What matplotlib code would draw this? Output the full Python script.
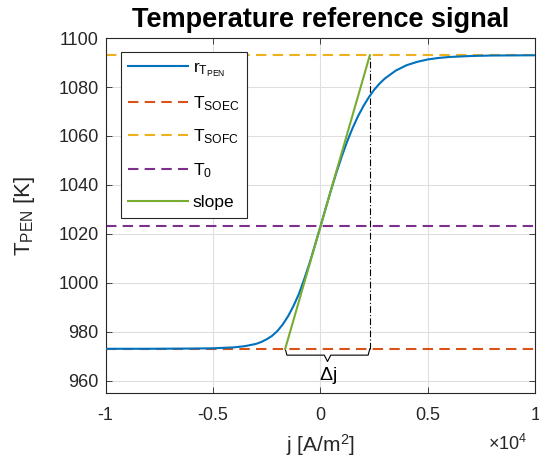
import matplotlib
matplotlib.use('Agg')
import matplotlib.pyplot as plt
import matplotlib.ticker as ticker

plt.rcParams['font.family'] = ['Liberation Sans', 'DejaVu Sans']
plt.rcParams['mathtext.fontset'] = 'custom'
plt.rcParams['mathtext.rm'] = 'Liberation Sans'
plt.rcParams['mathtext.it'] = 'Liberation Sans'
plt.rcParams['axes.unicode_minus'] = False

# current density [A/m^2] and reference temperature [K]
j = [-10000, -8000, -6000, -5000, -4500, -4000, -3500, -3000, -2750, -2500, -2250, -2000,
     -1750, -1500, -1250, -1000, -750, -500, -250, 0, 250, 500, 750, 1000, 1250, 1500,
     1750, 2000, 2250, 2500, 2750, 3000, 3500, 4000, 4500, 5000, 5500, 6000, 7000, 8000, 10000]
r_T = [973.0, 973.0, 973.1, 973.2, 973.4, 973.6, 974.1, 975.0, 975.8, 976.9, 978.3, 980.3,
       983.0, 986.4, 990.6, 995.5, 1001.6, 1008.2, 1015.5, 1023.0, 1030.6, 1038.1, 1045.2,
       1051.8, 1057.9, 1063.3, 1068.1, 1072.2, 1075.8, 1078.9, 1081.4, 1083.5, 1086.7,
       1088.9, 1090.3, 1091.3, 1091.9, 1092.3, 1092.7, 1092.9, 1093.0]

T_SOEC = 973
T_SOFC = 1093
T0 = 1023

# tangent at j = 0
slope_j = [-1640, 2300]
slope_T = [973, 1093]

c_blue = '#0072BD'
c_red = '#D95319'
c_yel = '#EDB120'
c_pur = '#7E2F8E'
c_grn = '#77AC30'

fig = plt.figure(figsize=(5.39, 4.71), dpi=100)
ax = fig.add_axes([0.196, 0.166, 0.797, 0.753])

xlim = [-10000, 10000]
dash = (5, 3)
ax.plot(j, r_T, color=c_blue, lw=1.5, label=r'r$_{\mathrm{T}_{\mathrm{PEN}}}$', zorder=4)
ax.plot(xlim, [T_SOEC, T_SOEC], '--', color=c_red, lw=1.5, dashes=dash, label=r'T$_{\mathrm{SOEC}}$')
ax.plot(xlim, [T_SOFC, T_SOFC], '--', color=c_yel, lw=1.5, dashes=dash, label=r'T$_{\mathrm{SOFC}}$')
ax.plot(xlim, [T0, T0], '--', color=c_pur, lw=1.5, dashes=dash, label=r'T$_0$')
ax.plot(slope_j, slope_T, color=c_grn, lw=1.5, label='slope', zorder=5)

# dash-dot marker at the upper end of the slope
ax.plot([slope_j[1], slope_j[1]], [T_SOEC, T_SOFC], color='k', lw=0.8, dashes=(6, 2, 1, 2), zorder=3)

# brace for delta j
jm = (slope_j[0] + slope_j[1]) / 2
bx = [slope_j[0], slope_j[0] + 80, jm - 150, jm, jm + 150, slope_j[1] - 80, slope_j[1]]
by = [T_SOEC, T_SOEC - 2.6, T_SOEC - 2.6, T_SOEC - 5.2, T_SOEC - 2.6, T_SOEC - 2.6, T_SOEC]
ax.plot(bx, by, color='k', lw=0.8, zorder=3)
ax.text(jm, 962, r'$\Delta$j', ha='center', va='center', fontsize=14)

ax.set_xlim(xlim)
ax.set_ylim(955, 1100)
ax.set_xticks([-10000, -5000, 0, 5000, 10000])
ax.set_yticks(range(960, 1101, 20))
ax.xaxis.set_major_formatter(ticker.FuncFormatter(lambda v, p: '%g' % (v / 1e4)))
ax.tick_params(direction='in', top=True, right=True, labelsize=13, colors='#262626',
               length=4, width=0.6)
ax.tick_params(axis='x', pad=10)
ax.tick_params(axis='y', pad=5)
for sp in ax.spines.values():
    sp.set_color('#262626')
    sp.set_linewidth(0.8)
ax.grid(True, color='#dfdfdf', lw=0.8)
ax.set_axisbelow(True)

ax.set_title('Temperature reference signal', fontsize=19.5, fontweight='bold', pad=8)
ax.set_xlabel(r'j [A/m$^2$]', fontsize=15, color='#262626', labelpad=6)
ax.set_ylabel(r'T$_{\mathrm{PEN}}$ [K]', fontsize=16, color='#262626')
ax.yaxis.set_label_coords(-0.16, 0.5)
fig.text(0.905, 0.045, r'$\times$10$^4$', fontsize=13, color='#262626', ha='left', va='baseline')

leg = ax.legend(loc='upper left', bbox_to_anchor=(0.035, 0.96), fontsize=12.5,
                handlelength=3.4, handletextpad=0.3, labelspacing=0.86,
                borderpad=0.45, borderaxespad=0, fancybox=False, framealpha=1)
leg.get_frame().set_edgecolor('#262626')
leg.get_frame().set_linewidth(0.8)

fig.savefig('out.png', dpi=100)
